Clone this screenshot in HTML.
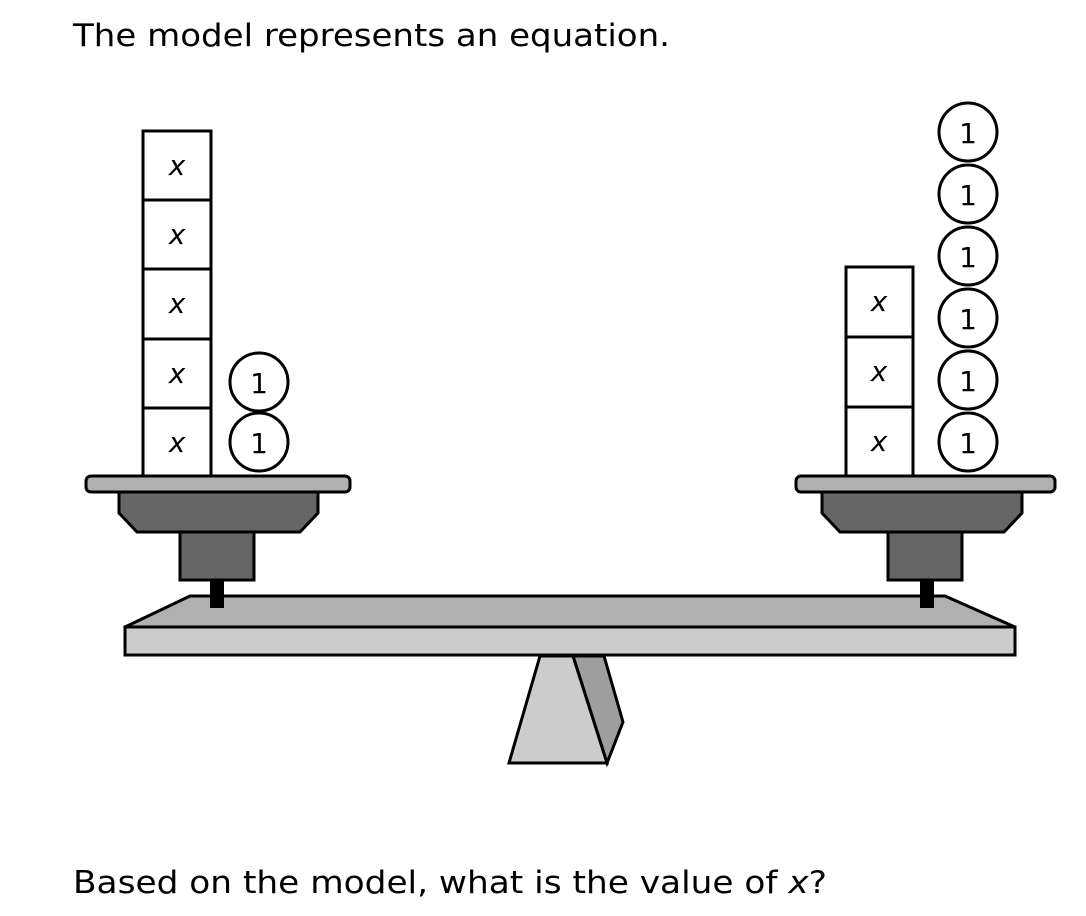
<!DOCTYPE html>
<html><head><style>body{margin:0;background:#fff}svg{display:block}</style></head><body>
<svg width="1086" height="916" xmlns="http://www.w3.org/2000/svg" font-family="'DejaVu Sans', 'Liberation Sans', sans-serif">
<text x="73" y="46" font-size="31" textLength="597" lengthAdjust="spacingAndGlyphs">The model represents an equation.</text>
<text x="73" y="893" font-size="31" textLength="754" lengthAdjust="spacingAndGlyphs">Based on the model, what is the value of <tspan font-style="italic">x</tspan>?</text>
<g stroke="#000" stroke-width="3" stroke-linejoin="miter">
<polygon points="573,656 604,656 623,722 607,763" fill="#9e9e9e"/>
<polygon points="540,656 573,656 607,763 509,763" fill="#cccccc"/>
<polygon points="125,627 190,596 945,596 1015,627" fill="#b0b0b0"/>
<rect x="125" y="627" width="890" height="28" fill="#cccccc"/>
<rect x="210" y="578" width="14" height="30" fill="#000" stroke="none"/>
<rect x="180" y="532" width="74" height="48" fill="#666"/>
<polygon points="119,492 318,492 318,513 300,532 137,532 119,513" fill="#666"/>
<rect x="86" y="476" width="264" height="16" rx="5" fill="#b0b0b0"/>
<rect x="920" y="578" width="14" height="30" fill="#000" stroke="none"/>
<rect x="888" y="532" width="74" height="48" fill="#666"/>
<polygon points="822,492 1022,492 1022,513 1004,532 840,532 822,513" fill="#666"/>
<rect x="796" y="476" width="259" height="16" rx="5" fill="#b0b0b0"/>
<g fill="#fff">
<rect x="143" y="131" width="68" height="69"/>
<rect x="143" y="200" width="68" height="69"/>
<rect x="143" y="269" width="68" height="70"/>
<rect x="143" y="339" width="68" height="69"/>
<rect x="143" y="408" width="68" height="68"/>
<circle cx="259" cy="382" r="29"/>
<circle cx="259" cy="442" r="29"/>
<rect x="846" y="267" width="67" height="70"/>
<rect x="846" y="337" width="67" height="70"/>
<rect x="846" y="407" width="67" height="69"/>
<circle cx="968" cy="132" r="29"/>
<circle cx="968" cy="194" r="29"/>
<circle cx="968" cy="256" r="29"/>
<circle cx="968" cy="318" r="29"/>
<circle cx="968" cy="380" r="29"/>
<circle cx="968" cy="442" r="29"/>
</g>
</g>
<g font-size="28" text-anchor="middle" font-style="italic">
<text x="177" y="175">x</text><text x="177" y="244">x</text><text x="177" y="313">x</text><text x="177" y="383">x</text><text x="177" y="452">x</text>
<text x="879" y="311">x</text><text x="879" y="381">x</text><text x="879" y="451">x</text>
</g>
<g font-size="28" text-anchor="middle">
<text x="259" y="393">1</text><text x="259" y="453">1</text>
<text x="968" y="143">1</text><text x="968" y="205">1</text><text x="968" y="267">1</text><text x="968" y="329">1</text><text x="968" y="391">1</text><text x="968" y="453">1</text>
</g>
</svg>
</body></html>
